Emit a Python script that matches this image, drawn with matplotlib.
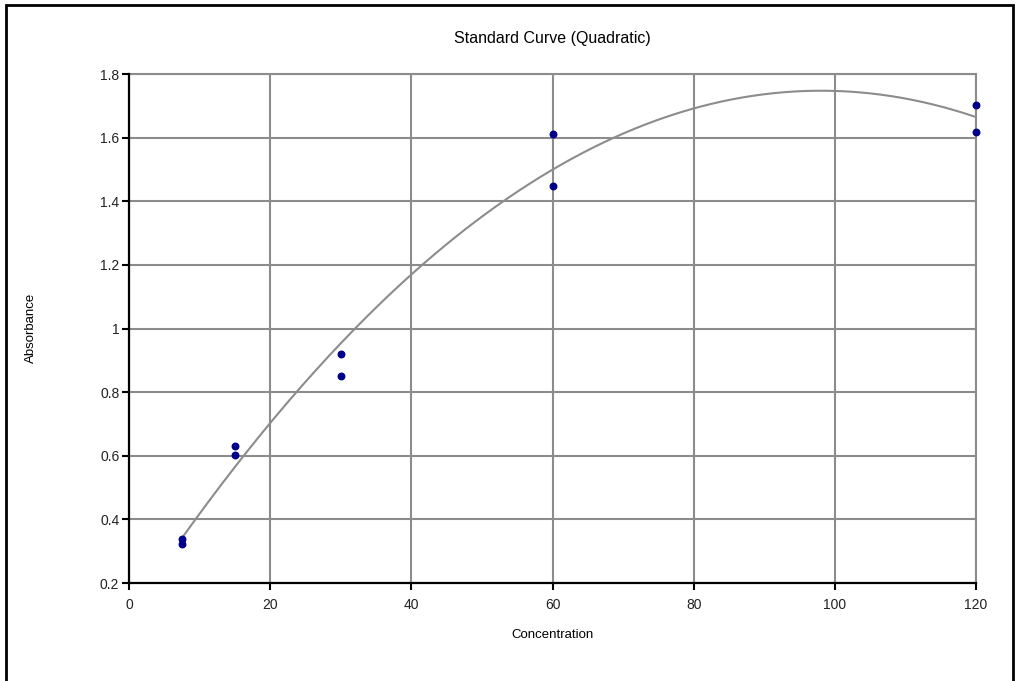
import numpy as np
import matplotlib
matplotlib.use('Agg')
import matplotlib.pyplot as plt
from matplotlib.patches import Rectangle

plt.rcParams['font.family'] = ['Liberation Sans', 'DejaVu Sans']

# standards (duplicates)
conc = [7.5, 7.5, 15, 15, 30, 30, 60, 60, 120, 120]
absorbance = [0.338, 0.323, 0.631, 0.603, 0.920, 0.851, 1.612, 1.448, 1.703, 1.618]

x_ticks = [0, 20, 40, 60, 80, 100, 120]
y_ticks = [0.2, 0.4, 0.6, 0.8, 1.0, 1.2, 1.4, 1.6, 1.8]
y_labels = ['0.2', '0.4', '0.6', '0.8', '1', '1.2', '1.4', '1.6', '1.8']

# quadratic fit through the standards
coef = np.polyfit(conc, absorbance, 2)
xs = np.linspace(min(conc), max(conc), 300)
ys = np.polyval(coef, xs)

fig = plt.figure(figsize=(10.15, 6.81), dpi=100)
ax = fig.add_axes([0.1271, 0.1439, 0.8345, 0.7474])

# outer frame
fig.patches.append(Rectangle((0.006, -0.05), 0.992, 1.043, transform=fig.transFigure,
                             fill=False, edgecolor='black', linewidth=2))

ax.grid(True, color='#8c8c8c', linewidth=1.5)
ax.set_axisbelow(True)
ax.plot(xs, ys, color='#8c8c8c', linewidth=1.5, zorder=2)
ax.scatter(conc, absorbance, s=22, color='#00008b', zorder=3, clip_on=False)

ax.set_xlim(0, 120)
ax.set_ylim(0.2, 1.8)
ax.set_xticks(x_ticks)
ax.set_yticks(y_ticks)
ax.set_yticklabels(y_labels)

for side in ['top', 'right']:
    ax.spines[side].set_linewidth(1.5)
    ax.spines[side].set_color('#8c8c8c')
    ax.spines[side].set_zorder(1)
for side in ['left', 'bottom']:
    ax.spines[side].set_linewidth(1.6)
    ax.spines[side].set_color('black')
    ax.spines[side].set_zorder(4)

ax.tick_params(axis='both', direction='out', length=5, width=1.5, color='black',
               labelsize=10, labelcolor='#222222')
ax.tick_params(axis='x', pad=6)
ax.tick_params(axis='y', pad=2)

ax.set_title('Standard Curve (Quadratic)', fontsize=11.5, pad=22)
ax.set_xlabel('Concentration', fontsize=9.5, labelpad=12)
# y label sits centred on the plot area, far out to the left
fig.text(31 / 1015, 1 - 328 / 681, 'Absorbance', fontsize=9.5, rotation=90,
         ha='center', va='center')

fig.savefig('out.png', dpi=100)
